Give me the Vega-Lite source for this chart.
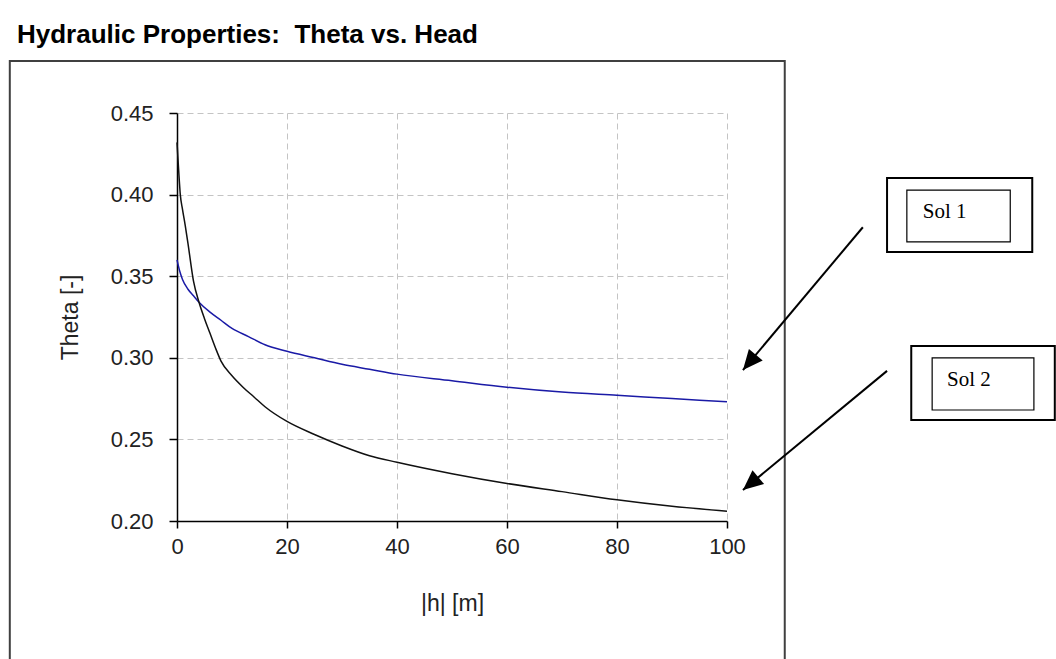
{
  "$schema": "https://vega.github.io/schema/vega-lite/v6.json",
  "width": 550,
  "height": 408,
  "autosize": {"type": "none"},
  "padding": {"left": 177, "top": 113, "right": 329, "bottom": 138},
  "background": "white",
  "config": {
    "view": {"stroke": null},
    "font": "Liberation Sans, Arial, sans-serif"
  },
  "title": {
    "text": "Hydraulic Properties:\u00a0 Theta vs. Head",
    "anchor": "start",
    "frame": "group",
    "dx": -160,
    "offset": -9,
    "baseline": "alphabetic",
    "fontSize": 26,
    "fontWeight": "bold",
    "font": "Liberation Sans, Arial, sans-serif",
    "color": "black"
  },
  "resolve": {"axis": {"x": "independent", "y": "independent"}},
  "datasets": {
    "curves": [
      {"h": 0, "theta": 0.360, "series": "Sol 1"},
      {"h": 0.5, "theta": 0.353, "series": "Sol 1"},
      {"h": 1, "theta": 0.348, "series": "Sol 1"},
      {"h": 2, "theta": 0.342, "series": "Sol 1"},
      {"h": 3, "theta": 0.338, "series": "Sol 1"},
      {"h": 4, "theta": 0.334, "series": "Sol 1"},
      {"h": 6, "theta": 0.328, "series": "Sol 1"},
      {"h": 8, "theta": 0.323, "series": "Sol 1"},
      {"h": 10, "theta": 0.318, "series": "Sol 1"},
      {"h": 13, "theta": 0.313, "series": "Sol 1"},
      {"h": 16, "theta": 0.308, "series": "Sol 1"},
      {"h": 20, "theta": 0.304, "series": "Sol 1"},
      {"h": 25, "theta": 0.300, "series": "Sol 1"},
      {"h": 30, "theta": 0.296, "series": "Sol 1"},
      {"h": 35, "theta": 0.293, "series": "Sol 1"},
      {"h": 40, "theta": 0.290, "series": "Sol 1"},
      {"h": 50, "theta": 0.286, "series": "Sol 1"},
      {"h": 60, "theta": 0.282, "series": "Sol 1"},
      {"h": 70, "theta": 0.279, "series": "Sol 1"},
      {"h": 80, "theta": 0.277, "series": "Sol 1"},
      {"h": 90, "theta": 0.275, "series": "Sol 1"},
      {"h": 100, "theta": 0.273, "series": "Sol 1"},
      {"h": 0, "theta": 0.432, "series": "Sol 2"},
      {"h": 0.3, "theta": 0.415, "series": "Sol 2"},
      {"h": 0.6, "theta": 0.400, "series": "Sol 2"},
      {"h": 1, "theta": 0.391, "series": "Sol 2"},
      {"h": 1.5, "theta": 0.381, "series": "Sol 2"},
      {"h": 2, "theta": 0.370, "series": "Sol 2"},
      {"h": 3, "theta": 0.347, "series": "Sol 2"},
      {"h": 4, "theta": 0.334, "series": "Sol 2"},
      {"h": 5, "theta": 0.324, "series": "Sol 2"},
      {"h": 6, "theta": 0.315, "series": "Sol 2"},
      {"h": 7, "theta": 0.306, "series": "Sol 2"},
      {"h": 8, "theta": 0.298, "series": "Sol 2"},
      {"h": 10, "theta": 0.289, "series": "Sol 2"},
      {"h": 12, "theta": 0.282, "series": "Sol 2"},
      {"h": 14, "theta": 0.276, "series": "Sol 2"},
      {"h": 16, "theta": 0.270, "series": "Sol 2"},
      {"h": 20, "theta": 0.261, "series": "Sol 2"},
      {"h": 25, "theta": 0.253, "series": "Sol 2"},
      {"h": 30, "theta": 0.246, "series": "Sol 2"},
      {"h": 35, "theta": 0.240, "series": "Sol 2"},
      {"h": 40, "theta": 0.236, "series": "Sol 2"},
      {"h": 50, "theta": 0.229, "series": "Sol 2"},
      {"h": 60, "theta": 0.223, "series": "Sol 2"},
      {"h": 70, "theta": 0.218, "series": "Sol 2"},
      {"h": 80, "theta": 0.213, "series": "Sol 2"},
      {"h": 90, "theta": 0.209, "series": "Sol 2"},
      {"h": 100, "theta": 0.206, "series": "Sol 2"}
    ],
    "frame": [{"x": -30.4, "x2": 110.5, "y": 0.4819, "y2": 0.05}],
    "outerBoxes": [
      {"label": "Sol 1", "x": 129.1, "x2": 155.5, "y": 0.4102, "y2": 0.3648},
      {"label": "Sol 2", "x": 133.5, "x2": 159.6, "y": 0.3072, "y2": 0.2619}
    ],
    "innerBoxes": [
      {"label": "Sol 1", "x": 132.7, "x2": 151.5, "y": 0.4028, "y2": 0.3710},
      {"label": "Sol 2", "x": 137.3, "x2": 155.8, "y": 0.3000, "y2": 0.2680}
    ],
    "labels": [
      {"label": "Sol 1", "x": 135.6, "y": 0.3893},
      {"label": "Sol 2", "x": 140.0, "y": 0.2864}
    ],
    "arrows": [
      {"label": "Sol 1", "x": 124.7, "y": 0.380, "x2": 102.9, "y2": 0.2925},
      {"label": "Sol 2", "x": 129.1, "y": 0.292, "x2": 102.9, "y2": 0.219}
    ]
  },
  "layer": [
    {
      "data": {"name": "curves"},
      "mark": {"type": "line", "strokeWidth": 1.5, "interpolate": "monotone"},
      "encoding": {
        "x": {
          "field": "h", "type": "quantitative",
          "scale": {"domain": [0, 100], "nice": false, "zero": false},
          "axis": {
            "title": "|h| [m]", "values": [0, 20, 40, 60, 80, 100],
            "grid": true, "gridDash": [6, 4], "gridColor": "#c4c4c4", "gridWidth": 1,
            "domainColor": "black", "domainWidth": 1.5, "tickColor": "black", "tickWidth": 1.5, "tickSize": 7,
            "labelFontSize": 22, "labelColor": "#222", "labelPadding": 8, "labelFlush": false,
            "titleFontSize": 23, "titleFontWeight": "normal", "titleColor": "#222", "titlePadding": 35
          }
        },
        "y": {
          "field": "theta", "type": "quantitative",
          "scale": {"domain": [0.2, 0.45], "nice": false, "zero": false},
          "axis": {
            "title": "Theta [-]", "values": [0.2, 0.25, 0.3, 0.35, 0.4, 0.45], "format": ".2f",
            "grid": true, "gridDash": [6, 4], "gridColor": "#c4c4c4", "gridWidth": 1,
            "domainColor": "black", "domainWidth": 1.5, "tickColor": "black", "tickWidth": 1.5, "tickSize": 8,
            "labelFontSize": 22, "labelColor": "#222", "labelPadding": 16, "labelFlush": false,
            "titleFontSize": 23, "titleFontWeight": "normal", "titleColor": "#222", "titlePadding": 28
          }
        },
        "color": {
          "field": "series", "type": "nominal",
          "scale": {"domain": ["Sol 1", "Sol 2"], "range": ["#1a1aa6", "#111111"]},
          "legend": null
        }
      }
    },
    {
      "data": {"name": "frame"},
      "mark": {"type": "rect", "fill": null, "fillOpacity": 0, "stroke": "#404040", "strokeWidth": 2},
      "encoding": {
        "x": {"field": "x", "type": "quantitative", "scale": {"domain": [0, 100], "nice": false, "zero": false}, "axis": null},
        "x2": {"field": "x2"},
        "y": {"field": "y", "type": "quantitative", "scale": {"domain": [0.2, 0.45], "nice": false, "zero": false}, "axis": null},
        "y2": {"field": "y2"}
      }
    },
    {
      "data": {"name": "arrows"},
      "mark": {"type": "rule", "stroke": "black", "strokeWidth": 2},
      "encoding": {
        "x": {"field": "x", "type": "quantitative", "scale": {"domain": [0, 100], "nice": false, "zero": false}, "axis": null},
        "x2": {"field": "x2"},
        "y": {"field": "y", "type": "quantitative", "scale": {"domain": [0.2, 0.45], "nice": false, "zero": false}, "axis": null},
        "y2": {"field": "y2"}
      }
    },
    {
      "data": {"name": "arrows"},
      "transform": [{"filter": "datum.label === 'Sol 1'"}],
      "mark": {"type": "point", "shape": "M0,0L0.45,1L-0.45,1Z", "filled": true, "fill": "black", "stroke": null, "size": 1600, "opacity": 1, "angle": 220},
      "encoding": {
        "x": {"field": "x2", "type": "quantitative", "scale": {"domain": [0, 100], "nice": false, "zero": false}, "axis": null},
        "y": {"field": "y2", "type": "quantitative", "scale": {"domain": [0.2, 0.45], "nice": false, "zero": false}, "axis": null}
      }
    },
    {
      "data": {"name": "arrows"},
      "transform": [{"filter": "datum.label === 'Sol 2'"}],
      "mark": {"type": "point", "shape": "M0,0L0.45,1L-0.45,1Z", "filled": true, "fill": "black", "stroke": null, "size": 1600, "opacity": 1, "angle": 230},
      "encoding": {
        "x": {"field": "x2", "type": "quantitative", "scale": {"domain": [0, 100], "nice": false, "zero": false}, "axis": null},
        "y": {"field": "y2", "type": "quantitative", "scale": {"domain": [0.2, 0.45], "nice": false, "zero": false}, "axis": null}
      }
    },
    {
      "data": {"name": "outerBoxes"},
      "mark": {"type": "rect", "fill": "white", "stroke": "black", "strokeWidth": 2},
      "encoding": {
        "x": {"field": "x", "type": "quantitative", "scale": {"domain": [0, 100], "nice": false, "zero": false}, "axis": null},
        "x2": {"field": "x2"},
        "y": {"field": "y", "type": "quantitative", "scale": {"domain": [0.2, 0.45], "nice": false, "zero": false}, "axis": null},
        "y2": {"field": "y2"}
      }
    },
    {
      "data": {"name": "innerBoxes"},
      "mark": {"type": "rect", "fill": "white", "stroke": "black", "strokeWidth": 1.2},
      "encoding": {
        "x": {"field": "x", "type": "quantitative", "scale": {"domain": [0, 100], "nice": false, "zero": false}, "axis": null},
        "x2": {"field": "x2"},
        "y": {"field": "y", "type": "quantitative", "scale": {"domain": [0.2, 0.45], "nice": false, "zero": false}, "axis": null},
        "y2": {"field": "y2"}
      }
    },
    {
      "data": {"name": "labels"},
      "mark": {"type": "text", "align": "left", "baseline": "middle", "font": "Liberation Serif, Times New Roman, serif", "fontSize": 21, "color": "black"},
      "encoding": {
        "x": {"field": "x", "type": "quantitative", "scale": {"domain": [0, 100], "nice": false, "zero": false}, "axis": null},
        "y": {"field": "y", "type": "quantitative", "scale": {"domain": [0.2, 0.45], "nice": false, "zero": false}, "axis": null},
        "text": {"field": "label"}
      }
    }
  ]
}
